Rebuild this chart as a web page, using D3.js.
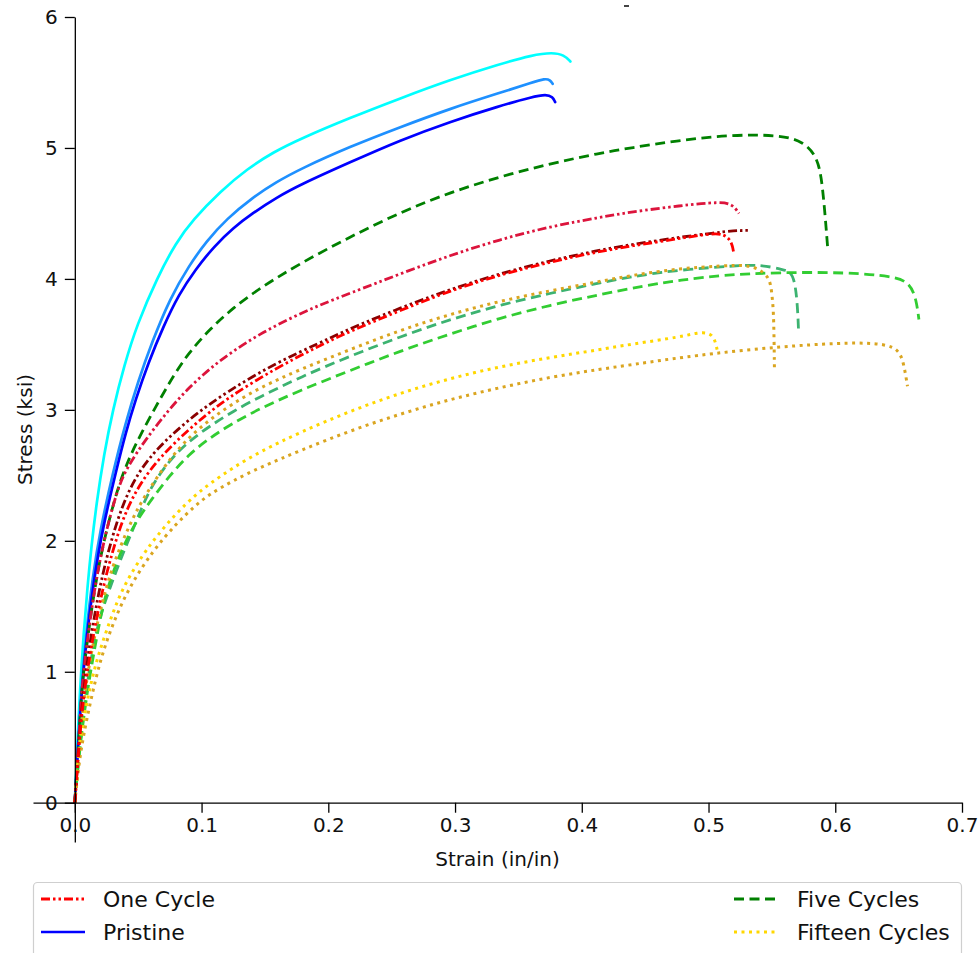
<!DOCTYPE html>
<html>
<head>
<meta charset="utf-8">
<script src="https://cdn.jsdelivr.net/npm/d3@7"></script>
<style>
  html, body { margin: 0; padding: 0; background: #fff; }
  svg { display: block; font-family: "DejaVu Sans", sans-serif; }
</style>
</head>
<body>
<svg id="chart" width="978" height="953"></svg>
<script>
// Tensile tests: stress (ksi) against strain (in/in) for specimens after 0, 1, 5 and 15 cycles.
const strainTicks = [0.0, 0.1, 0.2, 0.3, 0.4, 0.5, 0.6, 0.7];
const stressTicks = [0, 1, 2, 3, 4, 5, 6];

// Pristine specimens  [strain, stress]
const pristine1 = [[0,0],[0.002,0.45],[0.004,0.85],[0.007,1.3],[0.010,1.65],[0.013,1.95],[0.017,2.28],[0.023,2.66],[0.030,3.0],[0.039,3.34],[0.049,3.65],[0.065,4.01],[0.080,4.28],[0.093,4.45],[0.115,4.67],[0.136,4.84],[0.157,4.97],[0.178,5.07],[0.217,5.23],[0.257,5.38],[0.296,5.52],[0.335,5.64],[0.361,5.71],[0.377,5.73],[0.386,5.71],[0.391,5.66]];
const pristine2 = [[0,0],[0.002,0.38],[0.005,0.85],[0.009,1.3],[0.014,1.72],[0.020,2.08],[0.030,2.52],[0.040,2.90],[0.050,3.22],[0.061,3.52],[0.075,3.85],[0.090,4.10],[0.104,4.29],[0.120,4.46],[0.140,4.62],[0.159,4.74],[0.178,4.84],[0.217,5.01],[0.257,5.16],[0.296,5.30],[0.335,5.42],[0.361,5.50],[0.371,5.53],[0.375,5.52],[0.377,5.49]];
const pristine3 = [[0,0],[0.002,0.35],[0.005,0.8],[0.009,1.25],[0.015,1.7],[0.022,2.10],[0.033,2.55],[0.040,2.82],[0.048,3.08],[0.058,3.36],[0.070,3.64],[0.082,3.88],[0.095,4.07],[0.110,4.25],[0.125,4.39],[0.140,4.50],[0.159,4.62],[0.178,4.72],[0.217,4.89],[0.257,5.06],[0.296,5.20],[0.335,5.32],[0.361,5.39],[0.372,5.41],[0.377,5.39],[0.379,5.35]];

// After one cycle
const oneCycle1 = [[0,0],[0.003,0.45],[0.0055,0.89],[0.010,1.25],[0.015,1.60],[0.022,1.97],[0.033,2.38],[0.041,2.56],[0.057,2.79],[0.075,3.01],[0.090,3.17],[0.107,3.32],[0.125,3.45],[0.146,3.58],[0.170,3.70],[0.193,3.80],[0.217,3.89],[0.257,4.04],[0.296,4.18],[0.335,4.30],[0.375,4.40],[0.414,4.47],[0.438,4.51],[0.478,4.56],[0.509,4.59],[0.519,4.57],[0.524,4.50]];
const oneCycle2 = [[0,0],[0.003,0.4],[0.006,0.75],[0.012,1.15],[0.022,1.65],[0.033,2.03],[0.041,2.24],[0.051,2.43],[0.067,2.64],[0.093,2.88],[0.120,3.09],[0.159,3.32],[0.193,3.49],[0.217,3.60],[0.257,3.76],[0.296,3.91],[0.335,4.03],[0.375,4.13],[0.414,4.21],[0.438,4.25],[0.478,4.31],[0.504,4.35],[0.512,4.34],[0.517,4.30],[0.519,4.25],[0.520,4.19]];
const oneCycle3 = [[0,0],[0.003,0.42],[0.006,0.78],[0.011,1.18],[0.020,1.68],[0.030,2.05],[0.038,2.28],[0.048,2.49],[0.063,2.69],[0.090,2.93],[0.120,3.14],[0.159,3.36],[0.193,3.51],[0.217,3.62],[0.257,3.78],[0.296,3.92],[0.335,4.04],[0.375,4.14],[0.414,4.22],[0.438,4.26],[0.478,4.32],[0.504,4.35],[0.520,4.37],[0.533,4.37]];

// After five cycles
const fiveCycles1 = [[0,0],[0.003,0.45],[0.0055,0.89],[0.010,1.25],[0.015,1.60],[0.022,1.97],[0.033,2.38],[0.041,2.59],[0.051,2.80],[0.075,3.22],[0.090,3.44],[0.107,3.62],[0.125,3.78],[0.146,3.93],[0.178,4.12],[0.217,4.32],[0.257,4.51],[0.296,4.66],[0.335,4.78],[0.375,4.88],[0.414,4.96],[0.438,5.0],[0.478,5.06],[0.517,5.10],[0.556,5.10],[0.575,5.05],[0.586,4.93],[0.590,4.73],[0.594,4.24]];
const fiveCycles2 = [[0,0],[0.003,0.35],[0.007,0.72],[0.013,1.12],[0.019,1.40],[0.028,1.65],[0.039,1.93],[0.049,2.16],[0.059,2.40],[0.075,2.62],[0.090,2.76],[0.107,2.88],[0.125,2.99],[0.146,3.10],[0.178,3.25],[0.217,3.41],[0.257,3.56],[0.296,3.69],[0.335,3.80],[0.375,3.89],[0.409,3.96],[0.440,4.02],[0.478,4.07],[0.520,4.10],[0.541,4.11],[0.559,4.07],[0.567,4.05],[0.570,3.84],[0.571,3.61]];
const fiveCycles3 = [[0,0],[0.003,0.33],[0.007,0.66],[0.012,0.98],[0.017,1.25],[0.023,1.55],[0.030,1.76],[0.040,2.0],[0.050,2.17],[0.060,2.31],[0.075,2.50],[0.090,2.66],[0.107,2.79],[0.125,2.90],[0.146,3.01],[0.178,3.15],[0.217,3.30],[0.257,3.45],[0.296,3.58],[0.335,3.70],[0.375,3.80],[0.414,3.88],[0.450,3.95],[0.478,3.99],[0.510,4.03],[0.556,4.05],[0.609,4.05],[0.646,4.02],[0.659,3.97],[0.664,3.84],[0.666,3.69]];

// After fifteen cycles
const fifteenCycles1 = [[0,0],[0.003,0.4],[0.007,0.78],[0.012,1.1],[0.020,1.48],[0.030,1.82],[0.043,2.12],[0.054,2.33],[0.075,2.63],[0.090,2.79],[0.107,2.93],[0.125,3.05],[0.146,3.17],[0.178,3.31],[0.217,3.46],[0.257,3.61],[0.296,3.73],[0.335,3.83],[0.375,3.91],[0.409,3.97],[0.440,4.03],[0.478,4.08],[0.510,4.10],[0.535,4.11],[0.546,4.03],[0.549,3.97],[0.5505,3.84],[0.5515,3.71],[0.552,3.32]];
const fifteenCycles2 = [[0,0],[0.003,0.38],[0.009,0.76],[0.017,1.09],[0.028,1.40],[0.038,1.65],[0.054,1.90],[0.065,2.04],[0.080,2.21],[0.095,2.35],[0.107,2.44],[0.125,2.56],[0.146,2.68],[0.178,2.83],[0.217,2.99],[0.257,3.13],[0.296,3.24],[0.335,3.33],[0.375,3.40],[0.414,3.46],[0.438,3.50],[0.480,3.56],[0.491,3.59],[0.501,3.59],[0.505,3.54],[0.507,3.45]];
const fifteenCycles3 = [[0,0],[0.004,0.38],[0.012,0.76],[0.020,1.09],[0.030,1.37],[0.043,1.65],[0.062,1.93],[0.080,2.13],[0.095,2.27],[0.107,2.36],[0.125,2.46],[0.146,2.56],[0.178,2.69],[0.217,2.84],[0.257,2.97],[0.296,3.08],[0.335,3.17],[0.375,3.25],[0.414,3.31],[0.450,3.36],[0.478,3.40],[0.530,3.46],[0.582,3.50],[0.620,3.515],[0.640,3.50],[0.650,3.46],[0.654,3.36],[0.657,3.18]];

const legendLabels = ["One Cycle", "Pristine", "Five Cycles", "Fifteen Cycles"];

// Line style per test group
const groupStyle = {
  "Pristine":       { dash: null,              width: 2.7 },
  "One Cycle":      { dash: "9,3,2.5,3,2.5,3", width: 2.8 },
  "Five Cycles":    { dash: "10,5.5",          width: 2.8 },
  "Fifteen Cycles": { dash: "3,4.5",           width: 3.0 }
};
const legendColor = {
  "One Cycle": "#ff0000", "Pristine": "#0000ff",
  "Five Cycles": "#008000", "Fifteen Cycles": "#ffd700"
};

const series = [
  { group: "Pristine", color: "#00ffff", values: pristine1 },
  { group: "Pristine", color: "#1e90ff", values: pristine2 },
  { group: "Pristine", color: "#0000ff", values: pristine3 },
  { group: "Five Cycles", color: "#008000", values: fiveCycles1 },
  { group: "Five Cycles", color: "#3cb371", values: fiveCycles2 },
  { group: "Five Cycles", color: "#32cd32", values: fiveCycles3 },
  { group: "Fifteen Cycles", color: "#daa520", values: fifteenCycles1 },
  { group: "Fifteen Cycles", color: "#ffd700", values: fifteenCycles2 },
  { group: "Fifteen Cycles", color: "#daa520", values: fifteenCycles3 },
  { group: "One Cycle", color: "#dc143c", values: oneCycle1 },
  { group: "One Cycle", color: "#8b0000", values: oneCycle3 },
  { group: "One Cycle", color: "#ff0000", values: oneCycle2 }
];

const svg = d3.select("#chart");

const x = d3.scaleLinear().domain([-0.033, 0.7]).range([33, 962]);
const y = d3.scaleLinear().domain([-0.3, 6]).range([842, 17]);

const line = d3.line()
  .x(d => x(d[0]))
  .y(d => y(d[1]))
  .curve(d3.curveBasis);

// curves
svg.append("g")
  .selectAll("path")
  .data(series)
  .join("path")
  .attr("d", d => line(d.values))
  .attr("fill", "none")
  .attr("stroke", d => d.color)
  .attr("stroke-width", d => groupStyle[d.group].width)
  .attr("stroke-dasharray", d => groupStyle[d.group].dash)
  .attr("stroke-linejoin", "round")
  .attr("stroke-linecap", d => groupStyle[d.group].dash ? "butt" : "round");

// axes through the origin
const xAxis = d3.axisBottom(x)
  .tickValues(strainTicks)
  .tickFormat(d3.format(".1f"))
  .tickSize(10).tickSizeOuter(0).tickPadding(5);
const yAxis = d3.axisLeft(y)
  .tickValues(stressTicks)
  .tickFormat(d3.format("d"))
  .tickSize(10).tickSizeOuter(0).tickPadding(7);

const gx = svg.append("g").attr("transform", `translate(0,${y(0)})`).call(xAxis);
const gy = svg.append("g").attr("transform", `translate(${x(0)},0)`).call(yAxis);

[gx, gy].forEach(g => {
  g.select(".domain").attr("stroke", "#000").attr("stroke-width", 1.3);
  g.selectAll(".tick line").attr("stroke", "#000").attr("stroke-width", 1.3);
  g.selectAll(".tick text")
    .attr("font-family", "DejaVu Sans, sans-serif")
    .attr("font-size", 20)
    .attr("fill", "#111");
});

// axis titles
svg.append("text")
  .attr("x", (x.range()[0] + x.range()[1]) / 2)
  .attr("y", 866)
  .attr("text-anchor", "middle")
  .attr("font-size", 20)
  .attr("fill", "#111")
  .text("Strain (in/in)");

svg.append("text")
  .attr("transform", `translate(25,${(y.range()[0] + y.range()[1]) / 2}) rotate(-90)`)
  .attr("text-anchor", "middle")
  .attr("dy", "0.35em")
  .attr("font-size", 20)
  .attr("fill", "#111")
  .text("Stress (ksi)");

// small mark at the top edge
svg.append("rect")
  .attr("x", 624).attr("y", 5).attr("width", 5).attr("height", 2)
  .attr("fill", "#444");

// legend
const legend = svg.append("g");
legend.append("rect")
  .attr("x", 33.5).attr("y", 882.5)
  .attr("width", 928).attr("height", 90)
  .attr("rx", 4)
  .attr("fill", "#fff")
  .attr("stroke", "#cfcfcf")
  .attr("stroke-width", 1.2);

const legendPos = [
  { hx: 41, tx: 103, cy: 899 },
  { hx: 41, tx: 103, cy: 932 },
  { hx: 734, tx: 797, cy: 899 },
  { hx: 734, tx: 797, cy: 932 }
];

const items = legend.selectAll("g.item")
  .data(legendLabels)
  .join("g")
  .attr("class", "item");

items.append("line")
  .attr("x1", (d, i) => legendPos[i].hx)
  .attr("x2", (d, i) => legendPos[i].hx + 44)
  .attr("y1", (d, i) => legendPos[i].cy)
  .attr("y2", (d, i) => legendPos[i].cy)
  .attr("stroke", d => legendColor[d])
  .attr("stroke-width", d => groupStyle[d].width)
  .attr("stroke-dasharray", d => groupStyle[d].dash);

items.append("text")
  .attr("x", (d, i) => legendPos[i].tx)
  .attr("y", (d, i) => legendPos[i].cy)
  .attr("dy", "0.35em")
  .attr("font-size", 22)
  .attr("fill", "#111")
  .text(d => d);
</script>
</body>
</html>
